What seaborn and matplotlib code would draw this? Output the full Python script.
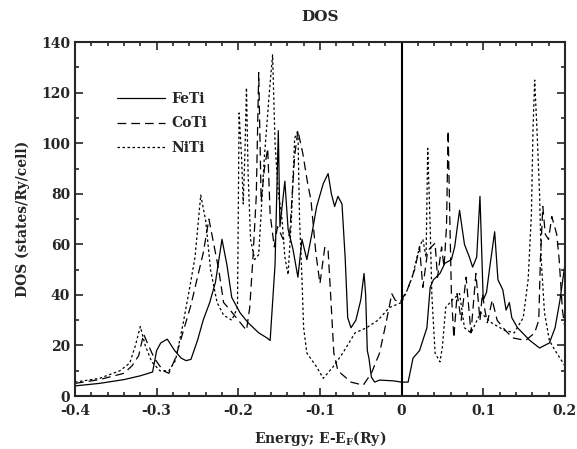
import pandas as pd
import seaborn as sns
import matplotlib.pyplot as plt
import matplotlib.ticker as ticker

# density of states (Ry, states/Ry/cell)
feti_e = [-0.400, -0.370, -0.340, -0.320, -0.305, -0.300, -0.295, -0.287, -0.278, -0.270,
          -0.264, -0.258, -0.250, -0.243, -0.235, -0.228, -0.220, -0.214, -0.208, -0.198,
          -0.188, -0.175, -0.165, -0.161, -0.158, -0.155, -0.151, -0.149, -0.143, -0.139,
          -0.133, -0.127, -0.122, -0.116, -0.110, -0.104, -0.096, -0.090, -0.086, -0.082,
          -0.078, -0.073, -0.069, -0.066, -0.062, -0.056, -0.050, -0.046, -0.044, -0.042,
          -0.040, -0.037, -0.033, -0.027, -0.010, 0.000, 0.008, 0.014, 0.022, 0.031,
          0.035, 0.039, 0.047, 0.053, 0.061, 0.065, 0.071, 0.077, 0.083, 0.087,
          0.092, 0.096, 0.100, 0.104, 0.108, 0.114, 0.118, 0.124, 0.128, 0.132,
          0.135, 0.142, 0.157, 0.169, 0.181, 0.188, 0.194, 0.200]
feti_dos = [4.0, 5.0, 6.5, 8.0, 9.5, 18.0, 21.0, 22.5, 18.0, 15.0,
            14.0, 14.5, 22.0, 30.0, 37.0, 45.0, 62.0, 52.0, 39.0, 33.0,
            29.0, 25.0, 23.0, 22.0, 37.0, 52.0, 105.0, 67.0, 85.0, 66.0,
            58.0, 47.0, 62.0, 54.0, 64.0, 75.0, 84.0, 88.0, 80.0, 75.0,
            79.0, 76.0, 54.0, 31.0, 27.0, 30.0, 38.0, 48.5, 40.0, 18.0,
            15.0, 7.5, 5.5, 6.3, 6.0, 5.5, 5.5, 15.0, 18.0, 27.0,
            43.0, 46.0, 48.5, 52.5, 54.0, 59.0, 73.5, 60.0, 55.0, 51.0,
            55.0, 79.0, 38.0, 41.0, 51.0, 65.0, 46.0, 42.0, 34.0, 37.0,
            31.0, 27.0, 22.0, 19.0, 21.0, 27.0, 38.0, 52.0]

coti_e = [-0.400, -0.370, -0.340, -0.330, -0.322, -0.316, -0.310, -0.303, -0.292, -0.285,
          -0.277, -0.268, -0.258, -0.250, -0.243, -0.236, -0.230, -0.224, -0.218, -0.210,
          -0.200, -0.190, -0.186, -0.182, -0.178, -0.175, -0.172, -0.168, -0.164, -0.161,
          -0.156, -0.152, -0.145, -0.137, -0.131, -0.127, -0.121, -0.115, -0.111, -0.105,
          -0.100, -0.094, -0.090, -0.087, -0.083, -0.078, -0.062, -0.047, -0.037, -0.027,
          -0.019, -0.012, -0.008, -0.002, 0.007, 0.016, 0.022, 0.026, 0.032, 0.041,
          0.044, 0.049, 0.052, 0.055, 0.057, 0.059, 0.061, 0.064, 0.068, 0.073,
          0.079, 0.085, 0.091, 0.096, 0.099, 0.102, 0.105, 0.111, 0.117, 0.127,
          0.136, 0.152, 0.163, 0.168, 0.170, 0.173, 0.176, 0.180, 0.184, 0.190,
          0.193, 0.197, 0.200]
coti_dos = [5.0, 6.5, 9.0, 12.0, 16.0, 24.5, 20.0, 15.0, 10.0, 9.0,
            15.0, 25.0, 36.0, 47.0, 56.5, 70.0, 60.0, 50.0, 37.0, 34.0,
            30.0, 26.0, 35.0, 55.0, 79.0, 128.0, 77.0, 90.0, 98.0, 72.0,
            59.0, 67.0, 62.0, 64.0, 95.0, 105.0, 96.0, 84.0, 77.5, 56.5,
            44.5, 59.0, 57.5, 40.5, 17.0, 10.0, 5.5, 4.3, 9.0, 17.0,
            29.0, 40.5, 38.0, 37.0, 42.0, 50.0, 59.0, 43.0, 57.5, 60.5,
            47.0, 59.0, 51.0, 67.0, 105.0, 71.0, 40.5, 23.0, 40.5, 30.0,
            47.0, 25.0, 48.5, 30.0, 40.5, 34.0, 29.0, 38.0, 30.0, 26.0,
            23.0, 22.0, 25.0, 30.0, 54.0, 75.0, 64.0, 62.0, 71.0, 64.0,
            54.0, 34.0, 27.0]

niti_e = [-0.400, -0.370, -0.345, -0.333, -0.326, -0.320, -0.314, -0.306, -0.296, -0.285,
          -0.277, -0.268, -0.260, -0.253, -0.246, -0.240, -0.234, -0.226, -0.218, -0.208,
          -0.201, -0.199, -0.196, -0.194, -0.192, -0.190, -0.188, -0.185, -0.180, -0.175,
          -0.168, -0.162, -0.158, -0.155, -0.151, -0.147, -0.143, -0.139, -0.135, -0.131,
          -0.127, -0.125, -0.122, -0.120, -0.116, -0.104, -0.096, -0.084, -0.072, -0.057,
          -0.043, -0.029, -0.015, 0.000, 0.007, 0.013, 0.022, 0.026, 0.030, 0.032,
          0.035, 0.037, 0.041, 0.047, 0.050, 0.054, 0.062, 0.071, 0.077, 0.085,
          0.097, 0.110, 0.126, 0.138, 0.149, 0.155, 0.159, 0.161, 0.163, 0.166,
          0.169, 0.171, 0.175, 0.181, 0.188, 0.200]
niti_dos = [5.5, 7.0, 10.0, 13.0, 20.0, 27.5, 20.0, 13.5, 10.0, 10.0,
            14.0, 28.0, 42.0, 55.0, 79.5, 69.5, 50.0, 37.0, 32.0, 30.0,
            35.0, 112.0, 94.5, 76.0, 95.0, 122.0, 88.0, 62.0, 54.0, 56.0,
            95.0, 120.0, 135.0, 100.0, 80.0, 72.0, 55.0, 48.0, 70.0, 102.0,
            105.0, 70.0, 46.0, 27.0, 17.0, 11.5, 7.0, 11.5, 17.0, 25.0,
            27.0, 30.0, 35.0, 37.0, 42.0, 47.0, 59.0, 62.0, 55.0, 98.0,
            67.0, 40.5, 17.0, 13.5, 19.5, 35.0, 38.0, 40.5, 27.0, 25.0,
            33.0, 29.0, 26.0, 25.0, 31.0, 46.0, 72.0, 106.0, 125.0, 104.0,
            80.0, 54.0, 33.0, 22.0, 18.0, 12.0]

compounds = ['FeTi', 'CoTi', 'NiTi']

df = pd.concat([
    pd.DataFrame({'Energy': feti_e, 'DOS': feti_dos, 'Compound': 'FeTi'}),
    pd.DataFrame({'Energy': coti_e, 'DOS': coti_dos, 'Compound': 'CoTi'}),
    pd.DataFrame({'Energy': niti_e, 'DOS': niti_dos, 'Compound': 'NiTi'}),
], ignore_index=True)

sns.set_style('ticks')
plt.rcParams['font.family'] = ['DejaVu Serif']
plt.rcParams['font.weight'] = 'bold'
plt.rcParams['axes.unicode_minus'] = False
plt.rcParams['mathtext.fontset'] = 'custom'
plt.rcParams['mathtext.rm'] = 'DejaVu Serif:bold'

fig, ax = plt.subplots(figsize=(5.77, 4.49), dpi=100)
fig.subplots_adjust(left=0.130, right=0.979, bottom=0.118, top=0.906)

line_dashes = {'FeTi': '', 'CoTi': (7, 4), 'NiTi': (2, 2)}
sns.lineplot(data=df, x='Energy', y='DOS', style='Compound', style_order=compounds,
             dashes=line_dashes, color='black', linewidth=0.9, estimator=None,
             sort=False, ax=ax)

ax.axvline(0, color='black', linewidth=1.5)

ax.set_xlim(-0.4, 0.2)
ax.set_ylim(0, 140)
ax.xaxis.set_major_locator(ticker.MultipleLocator(0.1))
ax.xaxis.set_minor_locator(ticker.MultipleLocator(0.02))
ax.yaxis.set_major_locator(ticker.MultipleLocator(20))
ax.yaxis.set_minor_locator(ticker.MultipleLocator(10))
ax.xaxis.set_major_formatter(ticker.FuncFormatter(lambda v, p: '0' if abs(v) < 1e-9 else f'{v:.1f}'))
ax.tick_params(which='both', direction='in', top=True, right=True, labelsize=10, width=1.2)
ax.tick_params(which='major', length=6)
ax.tick_params(which='minor', length=3)
ax.tick_params(axis='x', which='major', pad=6)
for s in ax.spines.values():
    s.set_linewidth(1.5)

ax.set_title('DOS', fontsize=11, fontweight='bold', pad=15)
ax.set_xlabel(r'Energy; E-E$_\mathrm{F}$(Ry)', fontsize=10, fontweight='bold', labelpad=8)
ax.set_ylabel('DOS (states/Ry/cell)', fontsize=10, fontweight='bold', labelpad=8)

handles, labels = ax.get_legend_handles_labels()
ax.legend(handles, labels, loc='upper left', bbox_to_anchor=(0.075, 0.875), frameon=False,
          fontsize=10, handlelength=3.4, handletextpad=0.5, labelspacing=0.75,
          borderaxespad=0)

plt.savefig('out.png', dpi=100)
